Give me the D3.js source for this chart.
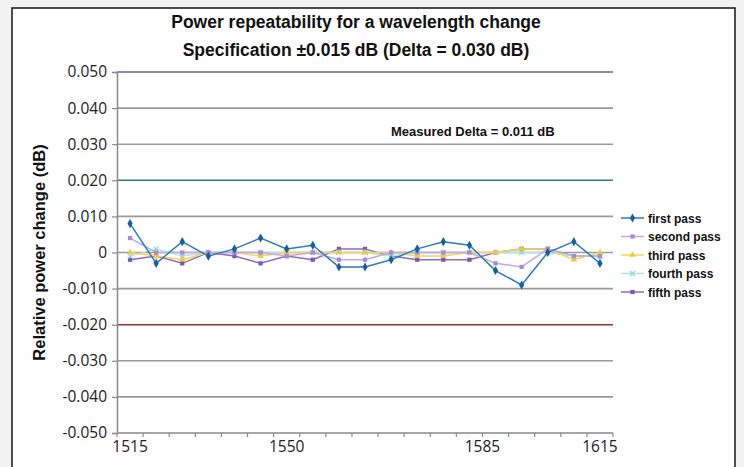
<!DOCTYPE html>
<html>
<head>
<meta charset="utf-8">
<title>Power repeatability</title>
<script src="https://cdn.jsdelivr.net/npm/d3@7"></script>
<style>
  body { margin: 0; background: #fff; }
  svg { display: block; }
  .title { font-family: "Liberation Sans", Arial, sans-serif; font-weight: bold; font-size: 17.5px; fill: #111; }
  .tick text, .xl { font-family: "Open Sans", sans-serif; font-size: 15.5px; fill: #222; }
  .ytitle { font-family: "Liberation Sans", Arial, sans-serif; font-weight: bold; font-size: 16.5px; fill: #111; }
  .note { font-family: "Liberation Sans", Arial, sans-serif; font-weight: bold; font-size: 13px; fill: #111; }
  .legend text { font-family: "Liberation Sans", Arial, sans-serif; font-weight: bold; font-size: 12px; fill: #111; }
</style>
</head>
<body>
<div id="chart"></div>
<script>
// measurement steps (19 points across the band)
var steps = ["1","2","3","4","5","6","7","8","9","10","11","12","13","14","15","16","17","18","19"];
var xTickLabels = ["1515", "1550", "1585", "1615"];
var xTickSteps = [1, 7, 14.5, 19];
var yTicks = [0.05, 0.04, 0.03, 0.02, 0.01, 0, -0.01, -0.02, -0.03, -0.04, -0.05];

var seriesNames = ["first pass", "second pass", "third pass", "fourth pass", "fifth pass"];
var firstPass  = [0.008, -0.003, 0.003, -0.001, 0.001, 0.004, 0.001, 0.002, -0.004, -0.004, -0.002, 0.001, 0.003, 0.002, -0.005, -0.009, 0.000, 0.003, -0.003];
var secondPass = [0.004, 0.000, 0.000, 0.000, 0.000, 0.000, -0.001, 0.000, -0.002, -0.002, 0.000, 0.000, 0.000, 0.000, -0.003, -0.004, 0.001, -0.001, -0.001];
var thirdPass  = [0.000, -0.001, -0.002, 0.000, 0.000, -0.001, 0.000, 0.000, 0.000, 0.000, 0.000, -0.001, -0.001, 0.000, 0.000, 0.001, 0.001, -0.002, 0.000];
var fourthPass = [-0.001, 0.001, -0.001, 0.000, 0.000, 0.000, 0.000, 0.000, 0.000, 0.000, -0.001, 0.000, 0.000, 0.000, 0.000, 0.000, 0.000, -0.001, -0.001];
var fifthPass  = [-0.002, -0.001, -0.003, 0.000, -0.001, -0.003, -0.001, -0.002, 0.001, 0.001, -0.001, -0.002, -0.002, -0.002, 0.000, 0.001, 0.001, -0.001, -0.001];
var seriesValues = [firstPass, secondPass, thirdPass, fourthPass, fifthPass];

(function() {
  var lineColors = ["#2d7cbb", "#c3a9e3", "#f6d45a", "#aee6e6", "#8a6cc4"];
  var markColors = ["#17609e", "#a88bd6", "#f2c93a", "#8fdada", "#7a58b8"];
  var symbols = [d3.symbolDiamond, d3.symbolSquare, d3.symbolTriangle, d3.symbolTimes, d3.symbolSquare];

  var width = 744, height = 467;
  var pLeft = 117, pRight = 613, pTop = 72, pBottom = 433;

  var svg = d3.select("#chart").append("svg")
    .attr("width", width).attr("height", height);

  // page background + frame
  svg.append("rect").attr("width", width).attr("height", height).attr("fill", "#f2f2f2");
  svg.append("rect").attr("x", 12).attr("y", 8).attr("width", 723).attr("height", 470)
    .attr("fill", "#fff").attr("stroke", "#222").attr("stroke-width", 1.6);

  var x = d3.scalePoint().domain(steps).range([pLeft, pRight]).padding(0.5);
  var y = d3.scaleLinear().domain([-0.05, 0.05]).range([pBottom, pTop]);

  function stepPos(s) { return x(steps[0]) + (s - 1) * x.step(); }

  // grid lines
  function gridColor(v) {
    if (Math.abs(v - 0.02) < 1e-9) return "#2f7f86";
    if (Math.abs(v + 0.02) < 1e-9) return "#8e3a30";
    if (Math.abs(v - 0.05) < 1e-9) return "#5f6f7a";
    return "#9a9a9a";
  }
  svg.append("g").selectAll("line").data(yTicks.filter(function(d) { return d > -0.05; }))
    .enter().append("line")
    .attr("x1", pLeft).attr("x2", pRight)
    .attr("y1", function(d) { return y(d); }).attr("y2", function(d) { return y(d); })
    .attr("stroke", gridColor)
    .attr("stroke-width", 1.6);

  // y axis
  var fmt = d3.format(".3f");
  var yAxis = svg.append("g").attr("transform", "translate(" + pLeft + ",0)")
    .call(d3.axisLeft(y).tickValues(yTicks).tickSize(5).tickPadding(5)
      .tickFormat(function(d) { return d === 0 ? "0" : fmt(d).replace("\u2212", "-"); }));
  yAxis.attr("font-family", null).attr("font-size", null);
  yAxis.select(".domain").attr("stroke", "#8a8a8a").attr("stroke-width", 1.5);
  yAxis.selectAll(".tick line").attr("stroke", "#8a8a8a").attr("stroke-width", 1.2);

  // x axis: line, minor ticks at category boundaries, labels
  var xg = svg.append("g");
  xg.append("line").attr("x1", pLeft).attr("x2", pRight).attr("y1", pBottom).attr("y2", pBottom)
    .attr("stroke", "#8a8a8a").attr("stroke-width", 1.5);
  var bounds = steps.map(function(s) { return x(s) - x.step() / 2; })
    .concat([x(steps[steps.length - 1]) + x.step() / 2]);
  xg.selectAll(".mt").data(bounds).enter().append("line")
    .attr("x1", function(d) { return d; }).attr("x2", function(d) { return d; })
    .attr("y1", pBottom).attr("y2", pBottom + 4)
    .attr("stroke", "#8a8a8a").attr("stroke-width", 1.2);
  xg.selectAll(".xl").data(xTickLabels).enter().append("text")
    .attr("class", "xl")
    .attr("x", function(d, i) { return stepPos(xTickSteps[i]); })
    .attr("y", 452)
    .attr("text-anchor", "middle")
    .text(function(d) { return d; });

  // series
  var line = d3.line().x(function(d, i) { return x(steps[i]); }).y(function(d) { return y(d); });
  [4, 3, 2, 1, 0].forEach(function(k) {
    var g = svg.append("g");
    g.append("path").datum(seriesValues[k]).attr("d", line)
      .attr("fill", "none").attr("stroke", lineColors[k]).attr("stroke-width", 1.5);
    g.selectAll("path.m").data(seriesValues[k]).enter().append("path").attr("class", "m")
      .attr("transform", function(d, i) { return "translate(" + x(steps[i]) + "," + y(d) + ")"; })
      .attr("d", d3.symbol().type(symbols[k]).size(k === 0 ? 24 : 18))
      .attr("fill", k === 3 ? "none" : markColors[k])
      .attr("stroke", k === 3 ? markColors[k] : "none")
      .attr("stroke-width", 1.3);
  });

  // titles
  svg.append("text").attr("class", "title").attr("x", 356).attr("y", 28).attr("text-anchor", "middle")
    .text("Power repeatability for a wavelength change");
  svg.append("text").attr("class", "title").attr("x", 356).attr("y", 56).attr("text-anchor", "middle")
    .text("Specification \u00b10.015 dB (Delta = 0.030 dB)");
  svg.append("text").attr("class", "ytitle")
    .attr("transform", "translate(45," + ((pTop + pBottom) / 2) + ") rotate(-90)")
    .attr("text-anchor", "middle")
    .text("Relative power change (dB)");
  svg.append("text").attr("class", "note").attr("x", 391).attr("y", 136)
    .text("Measured Delta = 0.011 dB");

  // legend
  var legend = svg.selectAll(".legend").data(seriesNames).enter().append("g")
    .attr("class", "legend")
    .attr("transform", function(d, i) { return "translate(621," + (218 + i * 18.5) + ")"; });
  legend.append("line").attr("x1", 0).attr("x2", 23).attr("y1", 0).attr("y2", 0)
    .attr("stroke", function(d, i) { return lineColors[i]; }).attr("stroke-width", 1.5);
  legend.append("path")
    .attr("transform", "translate(11.5,0)")
    .attr("d", function(d, i) { return d3.symbol().type(symbols[i]).size(i === 0 ? 24 : 18)(); })
    .attr("fill", function(d, i) { return i === 3 ? "none" : markColors[i]; })
    .attr("stroke", function(d, i) { return i === 3 ? markColors[i] : "none"; })
    .attr("stroke-width", 1.3);
  legend.append("text").attr("x", 27).attr("y", 4.5).text(function(d) { return d; });
})();
</script>
</body>
</html>
